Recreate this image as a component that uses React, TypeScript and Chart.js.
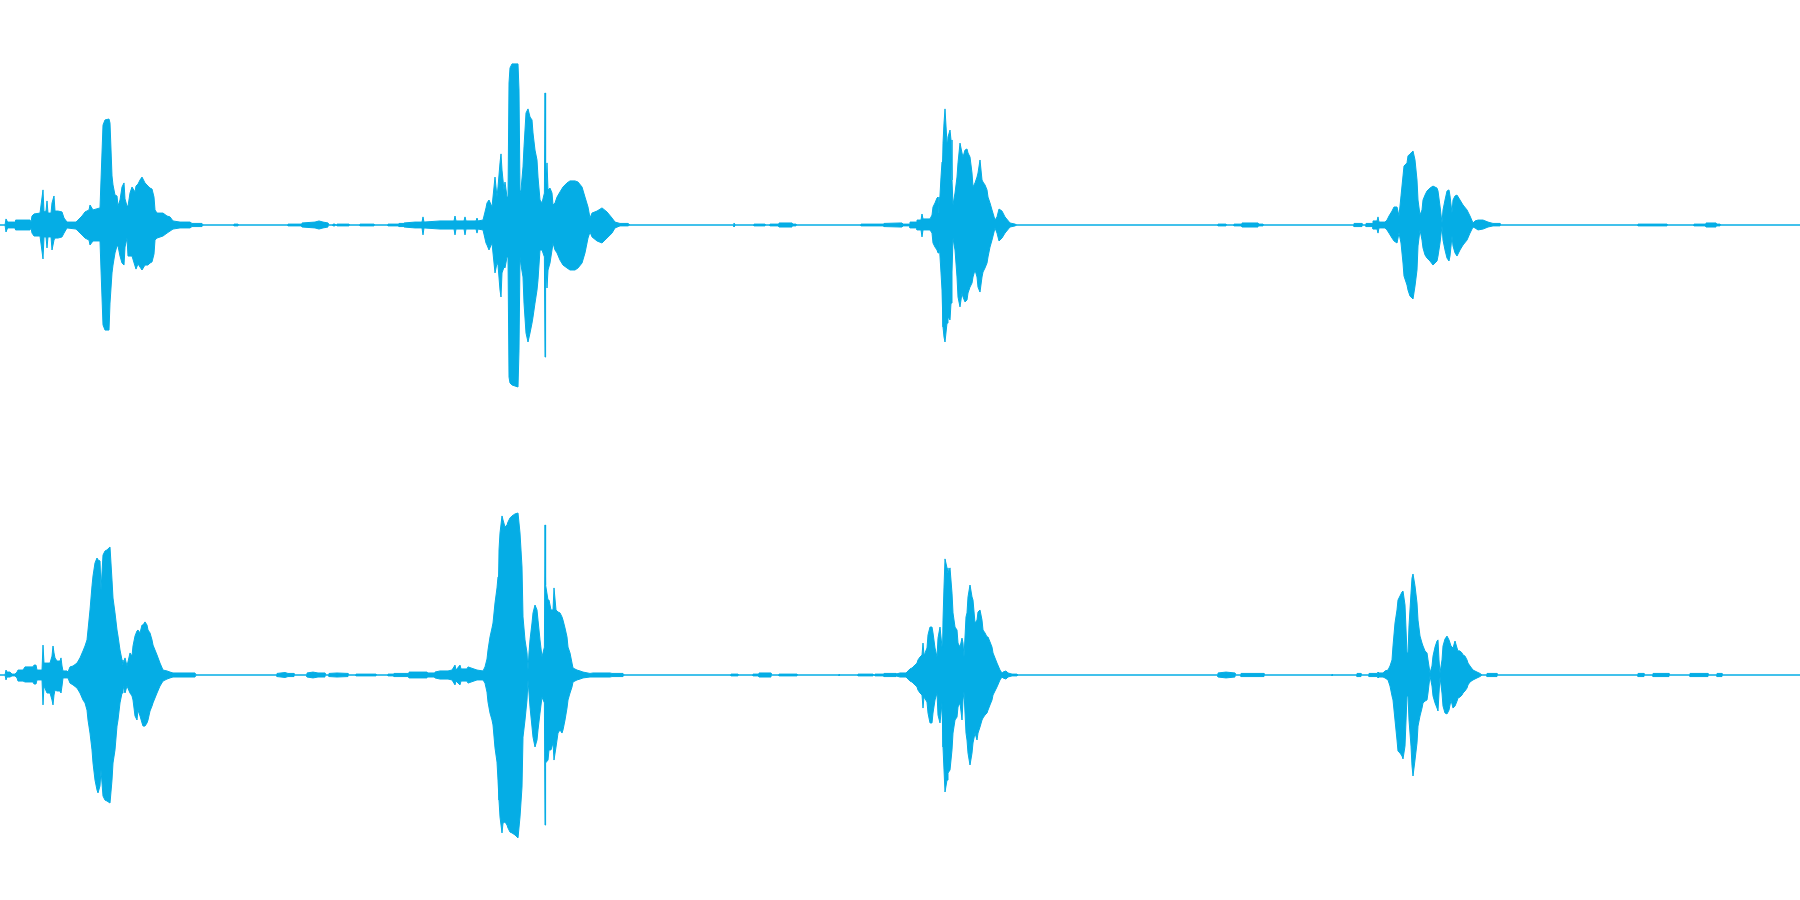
import React, { useEffect, useRef } from "react";
import { Chart, registerables } from "chart.js";

Chart.register(...registerables);

// Time axis in milliseconds, amplitude in percent of full scale.
const DURATION_MS = 9000;
const WAVE_COLOR = "#05ADE5";

// ---------- Channel 1 (top) ----------
const ch1TimeMs = [
  0, 25, 30, 38, 75, 78, 150, 155, 160, 170,
  200, 215, 220, 230, 235, 240, 255, 260, 270, 275,
  290, 310, 320, 335, 380, 390, 410, 425, 445, 450,
  465, 500, 505, 515, 525, 545, 550, 560, 565, 575,
  585, 590, 600, 610, 620, 625, 635, 640, 650, 660,
  675, 680, 690, 700, 710, 725, 740, 750, 760, 770,
  775, 785, 815, 835, 850, 865, 900, 950, 960, 1010, 1015,
  1170, 1170, 1190, 1190, 1440, 1440, 1510, 1510, 1575, 1595, 1615, 1640, 1640,
  1665, 1665, 1675, 1675, 1685, 1685, 1745, 1745, 1800, 1800, 1870, 1870,
  1940, 1940, 1995, 1995, 2020, 2020, 2075, 2110, 2115, 2120, 2200, 2270, 2275, 2280,
  2320, 2325, 2330, 2380, 2385, 2390, 2415,
  2430, 2435, 2445, 2460, 2475, 2485, 2490, 2500, 2505, 2510,
  2520, 2525, 2535, 2540, 2545, 2550, 2560, 2590, 2595, 2600,
  2605, 2615, 2620, 2630, 2640, 2650, 2660, 2665, 2675, 2685,
  2690, 2700, 2710, 2722, 2725, 2728, 2735, 2740, 2750, 2760,
  2765, 2775, 2785, 2800, 2815, 2835, 2850, 2875, 2890, 2910,
  2925, 2940, 2950, 2960, 2985, 3010, 3035, 3060, 3075, 3100, 3140, 3150,
  3670, 3670, 3675, 3770, 3770, 3825, 3825, 3850, 3850, 3895, 3895, 3960, 3960, 3980, 3980,
  4305, 4305, 4420, 4420,
  4500, 4510, 4515, 4550, 4550, 4585, 4585, 4605, 4610, 4615,
  4650, 4660, 4665, 4675, 4685, 4690, 4695, 4705, 4710, 4715,
  4720, 4725, 4735, 4740, 4750, 4755, 4760, 4765, 4775, 4785,
  4790, 4800, 4810, 4815, 4825, 4835, 4840, 4850, 4860, 4865,
  4875, 4885, 4890, 4900, 4910, 4915, 4925, 4935, 4940, 4950,
  4960, 4975, 4985, 4995, 5010, 5025, 5050, 5075, 5085,
  6090, 6090, 6130, 6130, 6170, 6170, 6210, 6210, 6290, 6290, 6315, 6315,
  6770, 6770, 6810, 6810, 6830, 6830, 6865, 6865, 6885, 6890, 6895, 6925,
  6935, 6945, 6960, 6970, 6985, 6995, 7005, 7015, 7020, 7035,
  7040, 7050, 7060, 7065, 7075, 7085, 7090, 7100, 7110, 7115,
  7125, 7135, 7150, 7165, 7185, 7190, 7200, 7210, 7215, 7225,
  7235, 7245, 7250, 7260, 7265, 7275, 7285, 7300, 7315, 7335,
  7350, 7365, 7375, 7390, 7415, 7440, 7465, 7500, 7500,
  8190, 8190, 8335, 8335, 8470, 8470, 8530, 8530, 8580, 8580, 8600, 8600, 9000,
];
const ch1Peak = [
  0, 0, 2.7, 1.3, 1.3, 2.2, 2.2, 1.3, 4, 4.9,
  5.3, 15.6, 5.8, 6.2, 10.7, 5.3, 5.3, 9.8, 12.9, 6.2,
  6.2, 5.8, 3.1, 1.3, 1.3, 2.2, 4, 5.8, 6.7, 8.9,
  6.7, 7.6, 20, 44.4, 46.7, 47.1, 45.3, 21.8, 17.8, 13.3,
  12.9, 8.4, 11.1, 16.9, 18.7, 11.6, 8.4, 8.4, 14.2, 16.9,
  14.7, 17.3, 18.2, 20, 21.3, 18.7, 17.3, 16.4, 16, 12.4,
  6.7, 5.3, 5.3, 4, 3.6, 1.8, 1.3, 1.3, 0.7, 0.7, 0,
  0, 0.4, 0.4, 0, 0, 0.4, 0.4, 0.9, 1.3, 1.8, 1.3, 0.9, 0,
  0, 0.4, 0.4, 0, 0, 0.4, 0.4, 0, 0, 0.4, 0.4, 0,
  0, 0.4, 0.4, 0.7, 0.7, 0.9, 1.3, 1.3, 3.6, 1.3, 1.8, 1.8, 4, 1.8,
  1.8, 3.6, 1.8, 1.8, 3.1, 1.8, 2.2,
  7.6, 9.8, 11.1, 8, 21.3, 12.4, 16.9, 27.6, 31.6, 24.4,
  15.6, 19.1, 12.4, 12.4, 63.1, 69.8, 71.6, 71.6, 60, 14.2,
  15.6, 25.8, 34.7, 49.8, 51.6, 48, 46.7, 40.9, 33.3, 28.9,
  21.3, 11.1, 9.8, 14.2, 58.7, 14.2, 27.6, 15.6, 16.4, 14.2,
  8.9, 9.8, 12.4, 14.7, 16.9, 18.7, 19.6, 19.6, 19.1, 16.9,
  12.4, 8, 3.1, 5.3, 6.2, 7.6, 5.8, 3.1, 1.3, 0.7, 0.7, 0,
  0, 0.9, 0, 0, 0.4, 0.4, 0, 0, 0.4, 0.4, 0.9, 0.9, 0.4, 0.4, 0,
  0, 0.4, 0.4, 0.7,
  0.9, 0.9, 0.4, 0.4, 1.3, 1.3, 2.2, 2.2, 4.9, 2.7,
  2.7, 4.4, 8, 9.8, 12, 12.4, 5.3, 21.3, 28, 36.4,
  45.3, 51.6, 36.4, 39.1, 42.2, 37.8, 20, 8.9, 14.2, 21.3,
  27.6, 36.4, 32, 30.2, 33.3, 33.8, 32, 30.2, 23.1, 16.9,
  18.7, 21.3, 23.1, 28.9, 20, 19.1, 17.8, 15.6, 12.4, 9.8,
  6.7, 2.2, 3.6, 7.1, 6.2, 3.6, 0.9, 0.4, 0,
  0, 0.4, 0.4, 0, 0, 0.4, 0.4, 0.9, 0.9, 0.4, 0.4, 0,
  0, 0.7, 0.7, 0, 0, 0.7, 0.7, 1.8, 1.8, 3.6, 1.3, 1.3,
  2.2, 4, 6.2, 8, 8, 4, 12.9, 21.8, 26.2, 27.6,
  30.7, 31.6, 32.4, 32.9, 28.9, 20, 11.1, 4.4, 6.7, 11.1,
  13.3, 15.1, 16.4, 17.3, 16.4, 15.1, 8.4, 0.9, 6.7, 11.1,
  15.1, 15.6, 12.9, 5.3, 11.1, 12.9, 13.3, 11.1, 8.9, 6.7,
  4, 0.9, 1.8, 2.2, 2.2, 1.3, 0.7, 0.7, 0,
  0, 0.4, 0.4, 0, 0, 0.4, 0.4, 0.9, 0.9, 0.4, 0.4, 0, 0,
];
const ch1Trough = [
  0, 0, -3.1, -1.3, -1.3, -2.2, -2.2, -1.3, -3.6, -4.9,
  -4.9, -15.1, -5.3, -5.3, -10.2, -5.3, -5.3, -11.1, -6.7, -5.8,
  -5.8, -5.3, -3.6, -1.3, -1.8, -2.7, -4.4, -5.8, -6.7, -8.9,
  -7.1, -7.1, -20, -44.4, -46.7, -46.7, -34.7, -21.3, -17.8, -12.4,
  -9.3, -9.3, -13.8, -16.9, -17.8, -9.8, -5.8, -13.8, -13.8, -13.8,
  -18.2, -19.6, -17.3, -18.7, -20, -17.8, -17.8, -16.9, -16.4, -12.9,
  -6.7, -5.8, -4.9, -3.6, -2.7, -1.8, -1.3, -1.3, -0.7, -0.7, 0,
  0, -0.4, -0.4, 0, 0, -0.4, -0.4, -0.9, -1.3, -1.8, -1.3, -0.9, 0,
  0, -0.4, -0.4, 0, 0, -0.4, -0.4, 0, 0, -0.4, -0.4, 0,
  0, -0.4, -0.4, -0.7, -0.7, -0.9, -1.3, -1.3, -4.4, -1.3, -1.8, -1.8, -4.4, -1.8,
  -1.8, -4.4, -1.8, -1.8, -3.6, -1.8, -2.2,
  -8, -8.9, -11.1, -8, -21.3, -16.9, -17.8, -28.9, -32, -21.3,
  -18.7, -19.1, -14.2, -14.2, -67.6, -70.2, -71.1, -72, -55.6, -14.2,
  -17.8, -23.1, -34.7, -48, -52, -48, -43.6, -40.9, -34.7, -28.9,
  -24.4, -11.1, -11.1, -14.2, -58.7, -14.2, -28, -20, -16.9, -11.1,
  -8, -11.1, -12.4, -15.6, -17.8, -19.1, -20, -20, -19.1, -16.9,
  -12.4, -5.8, -3.1, -5.3, -7.1, -8, -5.8, -3.6, -1.3, -0.4, -0.4, 0,
  0, -0.9, 0, 0, -0.4, -0.4, 0, 0, -0.4, -0.4, -0.9, -0.9, -0.4, -0.4, 0,
  0, -0.4, -0.4, -0.7,
  -0.9, -0.9, -0.4, -0.4, -1.3, -1.3, -2.2, -2.2, -5.3, -2.2,
  -2.2, -3.6, -8, -9.8, -11.1, -12.4, -6.7, -21.3, -28.9, -45.3,
  -49.8, -52, -43.6, -40.9, -42.2, -34.7, -20.9, -5.8, -11.1, -23.1,
  -32, -36.4, -30.2, -32, -34.2, -33.3, -30.2, -27.6, -25.8, -23.1,
  -20, -23.1, -27.6, -29.8, -23.1, -20.9, -19.1, -16.9, -14.2, -9.8,
  -6.7, -1.3, -3.6, -7.1, -5.8, -3.6, -0.9, -0.4, 0,
  0, -0.4, -0.4, 0, 0, -0.4, -0.4, -0.9, -0.9, -0.4, -0.4, 0,
  0, -0.7, -0.7, 0, 0, -0.7, -0.7, -1.8, -1.8, -3.6, -1.3, -1.3,
  -2.2, -3.6, -5.8, -7.1, -8, -3.6, -8, -16.9, -22.7, -26.7,
  -28.9, -31.6, -32.4, -32.9, -27.1, -20, -9.3, -2.2, -6.7, -10.2,
  -13.3, -14.7, -16, -17.8, -16, -13.8, -8, -0.4, -6.7, -11.1,
  -14.7, -16, -13.8, -4.9, -9.3, -12.4, -13.8, -11.1, -8.9, -6.7,
  -3.6, -0.9, -1.3, -2.2, -1.8, -0.9, -0.4, -0.4, 0,
  0, -0.4, -0.4, 0, 0, -0.4, -0.4, -0.9, -0.9, -0.4, -0.4, 0, 0,
];

// ---------- Channel 2 (bottom) ----------
const ch2TimeMs = [
  0, 25, 30, 35, 50, 60, 75, 85, 90, 115,
  125, 165, 170, 180, 185, 210, 215, 220, 235, 250,
  260, 265, 270, 275, 285, 300, 305, 310, 315, 335,
  340, 350, 365, 385, 400, 415, 425, 435, 440, 450,
  460, 465, 475, 485, 490, 500, 505, 515, 525, 535,
  550, 560, 565, 575, 585, 590, 600, 610, 615, 625,
  635, 650, 660, 665, 675, 685, 690, 700, 710, 715,
  725, 735, 740, 750, 760, 765, 785, 800, 815, 835,
  850, 865, 975, 980,
  1385, 1385, 1425, 1440, 1470, 1470, 1535, 1535, 1565, 1590, 1625, 1625,
  1645, 1645, 1685, 1740, 1740, 1780, 1780, 1880, 1880,
  1940, 1940, 1970, 1970, 2045, 2045, 2135, 2135, 2175, 2175,
  2200, 2240, 2260, 2275, 2280, 2300, 2305, 2335, 2340, 2385, 2415,
  2425, 2435, 2440, 2450, 2460, 2465, 2475, 2485, 2490, 2495,
  2500, 2510, 2515, 2525, 2535, 2540, 2550, 2560, 2575, 2590,
  2600, 2610, 2615, 2625, 2635, 2640, 2645, 2650, 2660, 2665,
  2675, 2685, 2690, 2700, 2710, 2722, 2725, 2728, 2740, 2745,
  2755, 2765, 2770, 2780, 2790, 2800, 2810, 2815, 2825, 2835,
  2840, 2850, 2860, 2865, 2885, 2900, 2915, 2950, 2965, 3050,
  3060, 3115, 3120,
  3655, 3655, 3690, 3690, 3765, 3765, 3795, 3795, 3855, 3855, 3895, 3895, 3985, 3985,
  4195, 4195, 4200, 4290, 4290, 4365, 4365, 4375, 4375, 4420, 4420, 4480, 4480,
  4500, 4530, 4535, 4540, 4550, 4560, 4565, 4575, 4585, 4590,
  4600, 4610, 4615, 4620, 4625, 4635, 4640, 4650, 4660, 4665,
  4675, 4685, 4690, 4700, 4710, 4715, 4720, 4725, 4735, 4740,
  4750, 4760, 4765, 4775, 4785, 4790, 4800, 4810, 4815, 4820,
  4830, 4835, 4840, 4850, 4860, 4865, 4875, 4885, 4890, 4900,
  4910, 4915, 4925, 4935, 4940, 4950, 4960, 4965, 4985, 5000,
  5010, 5015, 5030, 5040, 5060, 5085, 5090,
  6090, 6090, 6130, 6175, 6175, 6205, 6205, 6320, 6320, 6660, 6660, 6665,
  6785, 6785, 6805, 6805, 6845, 6845, 6885, 6890, 6895, 6915,
  6925, 6940, 6950, 6960, 6965, 6975, 6985, 6990, 7000, 7010,
  7015, 7025, 7035, 7040, 7045, 7055, 7060, 7065, 7075, 7085,
  7090, 7100, 7110, 7115, 7125, 7135, 7140, 7150, 7160, 7165,
  7175, 7185, 7190, 7195, 7200, 7210, 7215, 7225, 7235, 7245,
  7255, 7265, 7275, 7285, 7290, 7300, 7310, 7315, 7325, 7335,
  7340, 7350, 7365, 7385, 7400, 7410,
  7435, 7435, 7485, 7485, 8190, 8190, 8220, 8220, 8265, 8265, 8345, 8345,
  8450, 8450, 8540, 8540, 8585, 8585, 8610, 8610, 9000,
];
const ch2Peak = [
  0, 0, 2.2, 1.3, 1.3, 0.4, 0.4, 1.3, 2.2, 2.2,
  3.6, 3.6, 4.4, 4.4, 2.2, 2.2, 13.3, 5.3, 5.3, 5.3,
  8.4, 12.9, 9.8, 7.6, 6.2, 6.2, 7.6, 4, 1.8, 1.8,
  1.3, 3.6, 4, 5.3, 7.6, 10.7, 12.9, 15.6, 20, 28.9,
  39.6, 44, 49.8, 52, 51.1, 50.7, 37.8, 53.3, 55.1, 55.6,
  56.9, 42.2, 34.2, 27.6, 20, 17.3, 11.1, 6.7, 4.4, 7.6,
  4, 9.8, 8.4, 12.9, 17.3, 19.6, 20, 18.7, 22.2, 22.2,
  23.6, 22.2, 20, 18.7, 15.6, 13.3, 8.9, 5.3, 2.2, 1.8,
  1.3, 0.9, 0.9, 0,
  0, 0.7, 1.1, 0.7, 0.7, 0, 0, 0.9, 1.3, 0.9, 0.9, 0,
  0, 0.7, 0.9, 0.7, 0, 0, 0.4, 0.4, 0,
  0, 0.4, 0.4, 0.7, 0.7, 1.3, 1.3, 0.9, 0.9, 1.3,
  1.8, 1.8, 2.2, 4.4, 2.2, 4.4, 2.7, 2.7, 3.6, 2.2, 1.8,
  3.6, 7.1, 11.1, 16.9, 20.9, 23.1, 32, 38.7, 43.6, 55.6,
  63.1, 70.7, 68.9, 65.8, 66.7, 68, 69.8, 70.7, 71.6, 72,
  63.1, 48, 25.8, 15.6, 9.8, 2.2, 9.8, 15.6, 23.1, 27.6,
  31.1, 28.9, 24.4, 15.6, 8, 12.4, 66.7, 40, 33.3, 33.3,
  28.9, 28.9, 38.7, 28.9, 28, 27.6, 25.8, 24.4, 20.9, 16.9,
  12.4, 9.8, 5.3, 3.1, 2.2, 1.8, 1.3, 0.7, 0.9, 0.9,
  0.7, 0.7, 0,
  0, 0.4, 0.4, 0, 0, 0.4, 0.4, 0.9, 0.9, 0, 0, 0.4, 0.4, 0,
  0, 0.4, 0, 0, 0.4, 0.4, 0, 0, 0.4, 0.4, 0.7, 0.7, 0.4,
  0.9, 0.9, 1.3, 1.8, 2.7, 3.1, 3.6, 4.4, 5.3, 6.7,
  8, 8.9, 14.2, 8.9, 9.8, 12, 17.8, 21.3, 21.3, 18.7,
  12, 8, 16.4, 21.3, 12.4, 24.4, 39.1, 51.6, 47.6, 45.3,
  47.6, 36.4, 27.6, 21.3, 20, 14.2, 12.4, 16.4, 14.2, 8,
  25.8, 27.6, 34.7, 40, 34.7, 33.3, 23.1, 24.4, 28, 28.9,
  24.4, 20, 18.7, 16.9, 16.9, 14.7, 12.4, 9.8, 5.3, 2.2,
  0.9, 1.3, 1.8, 0.9, 0.4, 0.4, 0,
  0, 0.9, 1.3, 0.9, 0, 0, 0.7, 0.7, 0, 0, 0.4, 0,
  0, 0.7, 0.7, 0, 0, 0.7, 0.7, 1.3, 0.9, 0.9,
  1.8, 2.2, 4, 6.7, 12.9, 23.1, 28.9, 33.3, 35.1, 36.9,
  37.3, 31.1, 9.8, 9.8, 21.8, 36.4, 43.1, 44.9, 39.6, 32,
  24.4, 17.3, 14.2, 12.9, 10.7, 9.8, 6.7, 0.9, 4, 8.4,
  12.4, 15.1, 15.6, 6.7, 0.9, 6.7, 12.9, 16, 17.3, 15.6,
  12.9, 12, 15.1, 12, 10.7, 10.7, 9.8, 8.9, 8.4, 6.7,
  5.3, 4, 2.2, 1.3, 0.7, 0,
  0, 0.7, 0.7, 0, 0, 0.7, 0.7, 0, 0, 0.7, 0.7, 0,
  0, 0.7, 0.7, 0, 0, 0.7, 0.7, 0, 0,
];
const ch2Trough = [
  0, 0, -2.2, -0.9, -0.9, -0.4, -0.4, -1.3, -2.7, -2.7,
  -3.1, -3.1, -4, -4, -2.2, -2.2, -13.3, -4.9, -8, -8,
  -11.1, -13.3, -8.9, -6.7, -7.1, -7.1, -8, -4.9, -1.3, -1.3,
  -1.3, -3.6, -4.4, -5.8, -8, -11.1, -12.4, -15.6, -20, -25.8,
  -33.3, -39.1, -46.7, -51.1, -52.4, -49.3, -42.2, -53.8, -55.6, -56,
  -56.9, -46.7, -39.1, -33.3, -22.7, -20, -12.4, -8, -4.9, -8,
  -4.9, -8, -9.3, -11.1, -18.2, -20, -15.6, -18.2, -21.3, -22.7,
  -22.7, -21.3, -20, -16, -13.8, -12.4, -8, -4.9, -2.7, -1.8,
  -1.3, -0.9, -0.9, 0,
  0, -0.7, -1.1, -0.7, -0.7, 0, 0, -0.9, -1.3, -0.9, -0.9, 0,
  0, -0.7, -0.9, -0.7, 0, 0, -0.4, -0.4, 0,
  0, -0.4, -0.4, -0.7, -0.7, -1.3, -1.3, -0.9, -0.9, -1.3,
  -1.8, -1.8, -2.2, -4.4, -2.7, -4.4, -2.7, -2.7, -3.6, -2.2, -2.2,
  -3.6, -7.6, -12, -16.9, -20, -22.2, -32.4, -38.7, -46.7, -55.6,
  -63.1, -70.2, -65.8, -65.3, -66.7, -68, -69.8, -70.2, -71.1, -72.4,
  -63.1, -49.8, -27.6, -20, -11.1, -2.2, -8, -14.2, -23.1, -27.6,
  -32, -28.9, -24.4, -16.9, -9.8, -12.4, -66.7, -39.1, -37.8, -33.3,
  -33.3, -30.2, -37.8, -32, -25.8, -24.4, -25.8, -24.4, -20, -14.7,
  -11.1, -8, -5.3, -3.1, -2.2, -1.8, -1.3, -0.9, -0.9, -0.9,
  -0.7, -0.7, 0,
  0, -0.4, -0.4, 0, 0, -0.4, -0.4, -0.9, -0.9, 0, 0, -0.4, -0.4, 0,
  0, -0.4, 0, 0, -0.4, -0.4, 0, 0, -0.4, -0.4, -0.7, -0.7, -0.4,
  -0.9, -0.9, -1.3, -1.8, -2.7, -3.1, -3.6, -4.4, -5.3, -6.7,
  -8, -8.9, -14.7, -9.8, -9.8, -12, -16.9, -21.3, -21.3, -16.9,
  -11.1, -8, -17.8, -21.3, -12.4, -32, -42.2, -52, -46.7, -43.6,
  -42.2, -33.3, -25.8, -20, -18.7, -14.2, -12.4, -20, -11.1, -7.6,
  -25.8, -28.9, -34.7, -40, -34.7, -30.2, -25.8, -28.9, -25.8, -23.1,
  -20, -19.1, -17.8, -16.9, -15.6, -13.3, -11.1, -8.9, -5.3, -2.2,
  -0.9, -1.3, -1.8, -0.9, -0.4, -0.4, 0,
  0, -0.9, -1.3, -0.9, 0, 0, -0.7, -0.7, 0, 0, -0.4, 0,
  0, -0.7, -0.7, 0, 0, -0.7, -0.7, -1.3, -0.9, -0.9,
  -1.3, -2.2, -4.9, -9.3, -11.1, -20, -28.9, -33.8, -34.7, -36,
  -37.3, -31.6, -9.3, -9.3, -20, -31.6, -40.4, -44.9, -37.8, -30.2,
  -22.7, -18.2, -14.7, -12.4, -11.6, -11.1, -8, -0.4, -4.9, -9.3,
  -12.4, -14.7, -16, -8, -0.9, -8, -13.8, -16.9, -17.3, -15.6,
  -11.1, -14.7, -13.8, -11.6, -10.2, -9.8, -8.9, -8, -7.1, -5.8,
  -4.4, -3.1, -2.2, -1.3, -0.7, 0,
  0, -0.7, -0.7, 0, 0, -0.7, -0.7, 0, 0, -0.7, -0.7, 0,
  0, -0.7, -0.7, 0, 0, -0.7, -0.7, 0, 0,
];

function toPoints(times: number[], values: number[]) {
  const n = Math.min(times.length, values.length);
  const pts: { x: number; y: number }[] = [];
  for (let i = 0; i < n; i++) pts.push({ x: times[i], y: values[i] });
  return pts;
}

function ChannelChart({
  times,
  peaks,
  troughs,
}: {
  times: number[];
  peaks: number[];
  troughs: number[];
}) {
  const ref = useRef<HTMLCanvasElement | null>(null);
  useEffect(() => {
    if (!ref.current) return;
    const chart = new Chart(ref.current, {
      type: "line",
      data: {
        datasets: [
          {
            data: toPoints(times, peaks),
            borderColor: WAVE_COLOR,
            backgroundColor: WAVE_COLOR,
            borderWidth: 1,
            pointRadius: 0,
            tension: 0,
            fill: false,
          },
          {
            data: toPoints(times, troughs),
            borderColor: WAVE_COLOR,
            backgroundColor: WAVE_COLOR,
            borderWidth: 1,
            pointRadius: 0,
            tension: 0,
            fill: "-1",
          },
        ],
      },
      options: {
        animation: false,
        responsive: false,
        maintainAspectRatio: false,
        events: [],
        layout: { padding: 0 },
        plugins: {
          legend: { display: false },
          tooltip: { enabled: false },
        },
        scales: {
          x: { type: "linear", min: 0, max: DURATION_MS, display: false },
          y: { min: -100, max: 100, display: false },
        },
      },
    } as any);
    return () => chart.destroy();
  }, [times, peaks, troughs]);
  return (
    <canvas
      ref={ref}
      width={1800}
      height={450}
      style={{ display: "block", width: 1800, height: 450 }}
    />
  );
}

export default function App() {
  return (
    <div
      style={{
        position: "absolute",
        left: 0,
        top: 0,
        width: 1800,
        height: 900,
        background: "#ffffff",
      }}
    >
      <ChannelChart times={ch1TimeMs} peaks={ch1Peak} troughs={ch1Trough} />
      <ChannelChart times={ch2TimeMs} peaks={ch2Peak} troughs={ch2Trough} />
    </div>
  );
}
